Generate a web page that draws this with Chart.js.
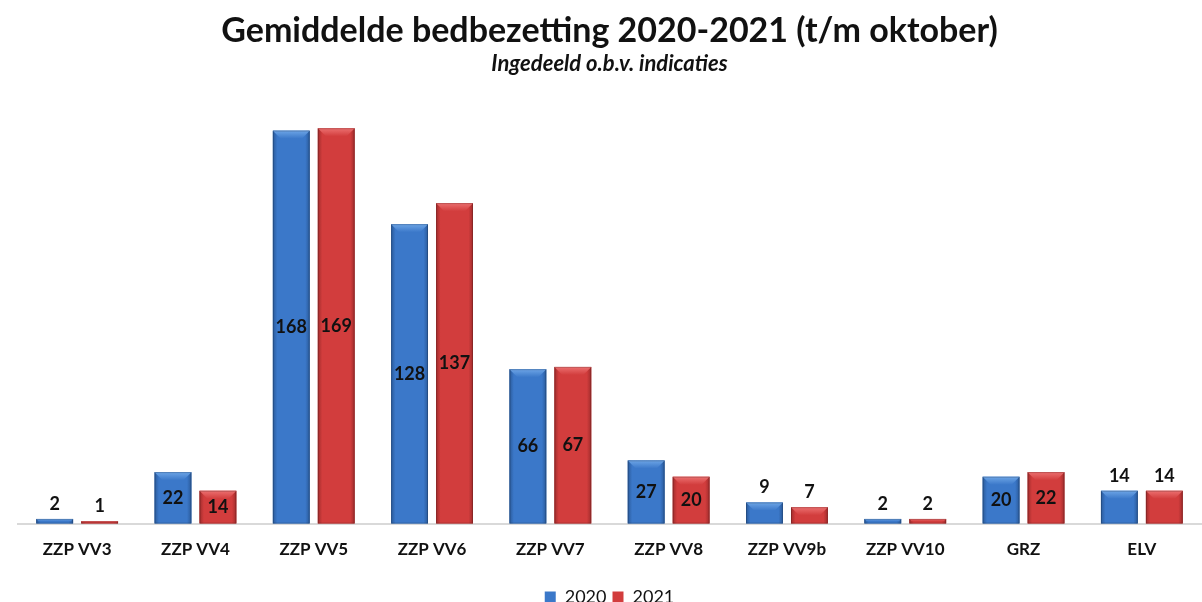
<!DOCTYPE html>
<html>
<head>
<meta charset="utf-8">
<script src="https://cdn.jsdelivr.net/npm/chart.js@4"></script>
<style>
  html, body { margin: 0; padding: 0; background: #fff; overflow: hidden; }
  #wrap { width: 1202px; height: 616px; }
</style>
</head>
<body>
<div id="wrap"><canvas id="bedChart" width="1202" height="616"></canvas></div>
<script>
const $ = id => document.getElementById(id);

// ---------------- DATA ----------------
const categories = ["ZZP VV3","ZZP VV4","ZZP VV5","ZZP VV6","ZZP VV7","ZZP VV8","ZZP VV9b","ZZP VV10","GRZ","ELV"];
const seriesNames = ["2020","2021"];
const values2020 = [2, 22, 168, 128, 66, 27, 9, 2, 20, 14];
const values2021 = [1, 14, 169, 137, 67, 20, 7, 2, 22, 14];
// categories whose value labels sit above the bars
const labelsAbove = ["ZZP VV3","ZZP VV9b","ZZP VV10","ELV"];

const FONT = "Lato, 'Open Sans', sans-serif";

// colour sets: [edge, mid, highlight]
const shades = [
  ["#2a5a9a", "#3b78c9", "#6da5e6"],
  ["#a02c2c", "#d23d3d", "#ec7070"]
];

// ---------------- CYLINDER LOOK + VALUE LABELS ----------------
const barStyle = {
  id: "barStyle",
  afterDatasetsDraw(chart){
    const ctx = chart.ctx;
    chart.data.datasets.forEach((ds, di) => {
      const meta = chart.getDatasetMeta(di);
      const [edge, mid, hi] = shades[di];
      meta.data.forEach((bar, i) => {
        const {x, y, base, width} = bar.getProps(["x","y","base","width"], true);
        const left = x - width/2, right = x + width/2;
        const h = base - y;
        ctx.save();
        const g = ctx.createLinearGradient(left, 0, right, 0);
        g.addColorStop(0, edge);
        g.addColorStop(0.12, mid);
        g.addColorStop(0.5, mid);
        g.addColorStop(0.88, mid);
        g.addColorStop(1, edge);
        ctx.fillStyle = g;
        ctx.fillRect(left, y, width, h);
        // top bevel
        const bev = Math.min(8, h/2);
        const bg = ctx.createLinearGradient(0, y, 0, y + bev);
        bg.addColorStop(0, hi);
        bg.addColorStop(1, mid);
        ctx.fillStyle = bg;
        ctx.beginPath();
        ctx.moveTo(left, y);
        ctx.lineTo(right, y);
        ctx.lineTo(right - bev, y + bev);
        ctx.lineTo(left + bev, y + bev);
        ctx.closePath();
        ctx.fill();
        ctx.strokeStyle = "rgba(0,0,0,0.18)";
        ctx.lineWidth = 1;
        ctx.strokeRect(left + 0.5, y + 0.5, width - 1, h - 1);
        ctx.restore();

        // value label
        const above = labelsAbove.includes(categories[i]);
        ctx.save();
        ctx.fillStyle = "#111";
        ctx.font = "bold 18px " + FONT;
        ctx.textAlign = "center";
        ctx.textBaseline = "middle";
        const ly = above ? y - 15 : (y + base)/2;
        ctx.fillText(String(ds.data[i]), x, ly);
        ctx.restore();
      });
    });
  }
};

// ---------------- CHART ----------------
function drawChart(){
  new Chart($("bedChart").getContext("2d"), {
    type: "bar",
    data: {
      labels: categories,
      datasets: [
        { label: seriesNames[0], data: values2020, backgroundColor: shades[0][1], borderWidth: 0 },
        { label: seriesNames[1], data: values2021, backgroundColor: shades[1][1], borderWidth: 0 }
      ]
    },
    options: {
      responsive: false,
      animation: false,
      categoryPercentage: 0.76,
      barPercentage: 0.82,
      layout: { padding: { left: 18, right: 1, top: 2, bottom: 0 } },
      plugins: {
        title: {
          display: true,
          text: "Gemiddelde bedbezetting 2020-2021 (t/m oktober)",
          color: "#111",
          font: { family: FONT, size: 34, weight: "bold" },
          padding: { top: 9, bottom: 0 }
        },
        subtitle: {
          display: true,
          text: "Ingedeeld o.b.v. indicaties",
          color: "#111",
          font: { family: FONT, size: 22, weight: "bold", style: "italic" },
          padding: { top: -1, bottom: 9 }
        },
        legend: {
          position: "bottom",
          labels: {
            color: "#111",
            font: { family: FONT, size: 18 },
            boxWidth: 11, boxHeight: 11,
            padding: 6
          }
        },
        tooltip: { enabled: false }
      },
      scales: {
        x: {
          grid: { display: false },
          border: { display: true, color: "#d9d9d9", width: 2 },
          ticks: { color: "#111", font: { family: FONT, size: 17, weight: "bold" }, padding: 8 },
          afterFit(scale){ scale.height += 14; }
        },
        y: { display: false, min: 0, max: 187 }
      }
    },
    plugins: [barStyle]
  });
}

window.onload = () => { drawChart(); };
</script>
</body>
</html>
